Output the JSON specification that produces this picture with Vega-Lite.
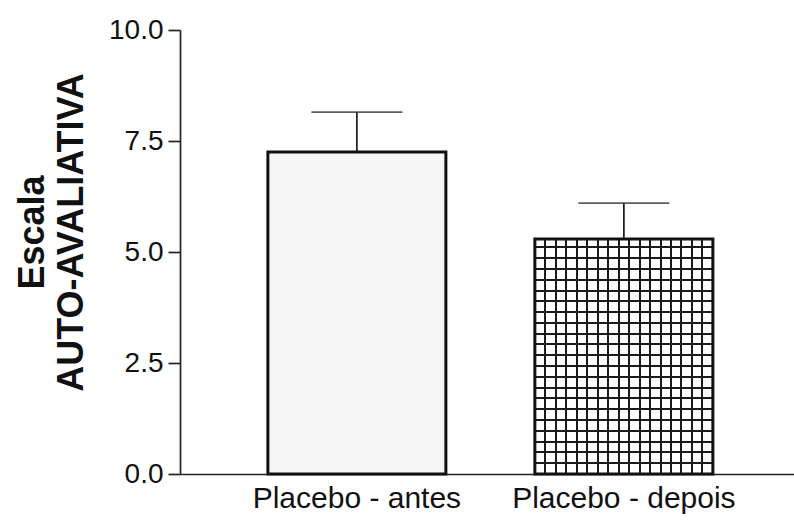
{
  "$schema": "https://vega.github.io/schema/vega-lite/v6.json",
  "autosize": "none",
  "width": 614,
  "height": 444,
  "padding": {"left": 180, "top": 30, "right": 0, "bottom": 46},
  "background": "white",
  "config": {
    "view": {"stroke": null},
    "font": "Liberation Sans",
    "axis": {"domainColor": "#222222", "domainWidth": 1.7, "tickColor": "#222222", "tickWidth": 1.7, "labelColor": "#111111", "labelFont": "Liberation Sans", "titleFont": "Liberation Sans", "grid": false, "labelLimit": 0}
  },
  "data": {
    "values": [
      {"grupo": "Placebo - antes", "media": 7.25, "superior": 8.15},
      {"grupo": "Placebo - depois", "media": 5.29, "superior": 6.1}
    ]
  },
  "encoding": {
    "x": {
      "field": "grupo", "type": "nominal", "sort": null,
      "scale": {"paddingInner": 0.3333, "paddingOuter": 0.3165, "align": 0.52},
      "axis": {"title": null, "labelAngle": 0, "ticks": false, "tickSize": 0, "labelFontSize": 30, "labelBaseline": "alphabetic", "labelPadding": 33, "labelLimit": 0}
    }
  },
  "layer": [
    {
      "transform": [{"filter": "datum.grupo === 'Placebo - antes'"}],
      "mark": {"type": "bar", "fill": "#f7f7f7"},
      "encoding": {
        "y": {
          "field": "media", "type": "quantitative",
          "scale": {"domain": [0, 10], "nice": false, "zero": true},
          "axis": {
            "values": [0, 2.5, 5, 7.5, 10], "format": ".1f", "tickSize": 12, "labelFontSize": 28, "labelPadding": 5,
            "title": ["Escala", "AUTO-AVALIATIVA"], "titleFontSize": 36, "titleFontWeight": "bold", "titleColor": "#111111",
            "titleLineHeight": 39, "titleAngle": -90, "titleAlign": "center", "titleBaseline": "alphabetic", "titleX": -137, "titleY": 202
          }
        }
      }
    },
    {
      "transform": [{"filter": "datum.grupo === 'Placebo - depois'"}],
      "mark": {
        "type": "bar",
        "fill": {
          "gradient": "linear", "x1": 0, "y1": 0, "x2": 0, "y2": 1,
          "stops": [
            {"offset": 0, "color": "#ffffff"},
            {"offset": 0.0306, "color": "#ffffff"}, {"offset": 0.0306, "color": "#1a1a1a"}, {"offset": 0.0392, "color": "#1a1a1a"}, {"offset": 0.0392, "color": "#ffffff"},
            {"offset": 0.0766, "color": "#ffffff"}, {"offset": 0.0766, "color": "#1a1a1a"}, {"offset": 0.0851, "color": "#1a1a1a"}, {"offset": 0.0851, "color": "#ffffff"},
            {"offset": 0.1225, "color": "#ffffff"}, {"offset": 0.1225, "color": "#1a1a1a"}, {"offset": 0.1311, "color": "#1a1a1a"}, {"offset": 0.1311, "color": "#ffffff"},
            {"offset": 0.1685, "color": "#ffffff"}, {"offset": 0.1685, "color": "#1a1a1a"}, {"offset": 0.1770, "color": "#1a1a1a"}, {"offset": 0.1770, "color": "#ffffff"},
            {"offset": 0.2145, "color": "#ffffff"}, {"offset": 0.2145, "color": "#1a1a1a"}, {"offset": 0.2230, "color": "#1a1a1a"}, {"offset": 0.2230, "color": "#ffffff"},
            {"offset": 0.2604, "color": "#ffffff"}, {"offset": 0.2604, "color": "#1a1a1a"}, {"offset": 0.2689, "color": "#1a1a1a"}, {"offset": 0.2689, "color": "#ffffff"},
            {"offset": 0.3064, "color": "#ffffff"}, {"offset": 0.3064, "color": "#1a1a1a"}, {"offset": 0.3149, "color": "#1a1a1a"}, {"offset": 0.3149, "color": "#ffffff"},
            {"offset": 0.3523, "color": "#ffffff"}, {"offset": 0.3523, "color": "#1a1a1a"}, {"offset": 0.3609, "color": "#1a1a1a"}, {"offset": 0.3609, "color": "#ffffff"},
            {"offset": 0.3983, "color": "#ffffff"}, {"offset": 0.3983, "color": "#1a1a1a"}, {"offset": 0.4068, "color": "#1a1a1a"}, {"offset": 0.4068, "color": "#ffffff"},
            {"offset": 0.4443, "color": "#ffffff"}, {"offset": 0.4443, "color": "#1a1a1a"}, {"offset": 0.4528, "color": "#1a1a1a"}, {"offset": 0.4528, "color": "#ffffff"},
            {"offset": 0.4902, "color": "#ffffff"}, {"offset": 0.4902, "color": "#1a1a1a"}, {"offset": 0.4987, "color": "#1a1a1a"}, {"offset": 0.4987, "color": "#ffffff"},
            {"offset": 0.5362, "color": "#ffffff"}, {"offset": 0.5362, "color": "#1a1a1a"}, {"offset": 0.5447, "color": "#1a1a1a"}, {"offset": 0.5447, "color": "#ffffff"},
            {"offset": 0.5821, "color": "#ffffff"}, {"offset": 0.5821, "color": "#1a1a1a"}, {"offset": 0.5907, "color": "#1a1a1a"}, {"offset": 0.5907, "color": "#ffffff"},
            {"offset": 0.6281, "color": "#ffffff"}, {"offset": 0.6281, "color": "#1a1a1a"}, {"offset": 0.6366, "color": "#1a1a1a"}, {"offset": 0.6366, "color": "#ffffff"},
            {"offset": 0.6740, "color": "#ffffff"}, {"offset": 0.6740, "color": "#1a1a1a"}, {"offset": 0.6826, "color": "#1a1a1a"}, {"offset": 0.6826, "color": "#ffffff"},
            {"offset": 0.7200, "color": "#ffffff"}, {"offset": 0.7200, "color": "#1a1a1a"}, {"offset": 0.7285, "color": "#1a1a1a"}, {"offset": 0.7285, "color": "#ffffff"},
            {"offset": 0.7660, "color": "#ffffff"}, {"offset": 0.7660, "color": "#1a1a1a"}, {"offset": 0.7745, "color": "#1a1a1a"}, {"offset": 0.7745, "color": "#ffffff"},
            {"offset": 0.8119, "color": "#ffffff"}, {"offset": 0.8119, "color": "#1a1a1a"}, {"offset": 0.8204, "color": "#1a1a1a"}, {"offset": 0.8204, "color": "#ffffff"},
            {"offset": 0.8579, "color": "#ffffff"}, {"offset": 0.8579, "color": "#1a1a1a"}, {"offset": 0.8664, "color": "#1a1a1a"}, {"offset": 0.8664, "color": "#ffffff"},
            {"offset": 0.9038, "color": "#ffffff"}, {"offset": 0.9038, "color": "#1a1a1a"}, {"offset": 0.9123, "color": "#1a1a1a"}, {"offset": 0.9123, "color": "#ffffff"},
            {"offset": 0.9498, "color": "#ffffff"}, {"offset": 0.9498, "color": "#1a1a1a"}, {"offset": 0.9583, "color": "#1a1a1a"}, {"offset": 0.9583, "color": "#ffffff"},
            {"offset": 1, "color": "#ffffff"}
          ]
        }
      },
      "encoding": {"y": {"field": "media", "type": "quantitative"}}
    },
    {
      "transform": [{"filter": "datum.grupo === 'Placebo - depois'"}],
      "mark": {
        "type": "bar",
        "fill": {
          "gradient": "linear", "x1": 0, "y1": 0, "x2": 1, "y2": 0,
          "stops": [
            {"offset": 0, "color": "rgba(0,0,0,0)"},
            {"offset": 0.0532, "color": "rgba(0,0,0,0)"}, {"offset": 0.0532, "color": "#1a1a1a"}, {"offset": 0.0644, "color": "#1a1a1a"}, {"offset": 0.0644, "color": "rgba(0,0,0,0)"},
            {"offset": 0.1120, "color": "rgba(0,0,0,0)"}, {"offset": 0.1120, "color": "#1a1a1a"}, {"offset": 0.1233, "color": "#1a1a1a"}, {"offset": 0.1233, "color": "rgba(0,0,0,0)"},
            {"offset": 0.1709, "color": "rgba(0,0,0,0)"}, {"offset": 0.1709, "color": "#1a1a1a"}, {"offset": 0.1821, "color": "#1a1a1a"}, {"offset": 0.1821, "color": "rgba(0,0,0,0)"},
            {"offset": 0.2297, "color": "rgba(0,0,0,0)"}, {"offset": 0.2297, "color": "#1a1a1a"}, {"offset": 0.2409, "color": "#1a1a1a"}, {"offset": 0.2409, "color": "rgba(0,0,0,0)"},
            {"offset": 0.2885, "color": "rgba(0,0,0,0)"}, {"offset": 0.2885, "color": "#1a1a1a"}, {"offset": 0.2997, "color": "#1a1a1a"}, {"offset": 0.2997, "color": "rgba(0,0,0,0)"},
            {"offset": 0.3473, "color": "rgba(0,0,0,0)"}, {"offset": 0.3473, "color": "#1a1a1a"}, {"offset": 0.3585, "color": "#1a1a1a"}, {"offset": 0.3585, "color": "rgba(0,0,0,0)"},
            {"offset": 0.4062, "color": "rgba(0,0,0,0)"}, {"offset": 0.4062, "color": "#1a1a1a"}, {"offset": 0.4174, "color": "#1a1a1a"}, {"offset": 0.4174, "color": "rgba(0,0,0,0)"},
            {"offset": 0.4650, "color": "rgba(0,0,0,0)"}, {"offset": 0.4650, "color": "#1a1a1a"}, {"offset": 0.4762, "color": "#1a1a1a"}, {"offset": 0.4762, "color": "rgba(0,0,0,0)"},
            {"offset": 0.5238, "color": "rgba(0,0,0,0)"}, {"offset": 0.5238, "color": "#1a1a1a"}, {"offset": 0.5350, "color": "#1a1a1a"}, {"offset": 0.5350, "color": "rgba(0,0,0,0)"},
            {"offset": 0.5826, "color": "rgba(0,0,0,0)"}, {"offset": 0.5826, "color": "#1a1a1a"}, {"offset": 0.5938, "color": "#1a1a1a"}, {"offset": 0.5938, "color": "rgba(0,0,0,0)"},
            {"offset": 0.6415, "color": "rgba(0,0,0,0)"}, {"offset": 0.6415, "color": "#1a1a1a"}, {"offset": 0.6527, "color": "#1a1a1a"}, {"offset": 0.6527, "color": "rgba(0,0,0,0)"},
            {"offset": 0.7003, "color": "rgba(0,0,0,0)"}, {"offset": 0.7003, "color": "#1a1a1a"}, {"offset": 0.7115, "color": "#1a1a1a"}, {"offset": 0.7115, "color": "rgba(0,0,0,0)"},
            {"offset": 0.7591, "color": "rgba(0,0,0,0)"}, {"offset": 0.7591, "color": "#1a1a1a"}, {"offset": 0.7703, "color": "#1a1a1a"}, {"offset": 0.7703, "color": "rgba(0,0,0,0)"},
            {"offset": 0.8179, "color": "rgba(0,0,0,0)"}, {"offset": 0.8179, "color": "#1a1a1a"}, {"offset": 0.8291, "color": "#1a1a1a"}, {"offset": 0.8291, "color": "rgba(0,0,0,0)"},
            {"offset": 0.8767, "color": "rgba(0,0,0,0)"}, {"offset": 0.8767, "color": "#1a1a1a"}, {"offset": 0.8880, "color": "#1a1a1a"}, {"offset": 0.8880, "color": "rgba(0,0,0,0)"},
            {"offset": 0.9356, "color": "rgba(0,0,0,0)"}, {"offset": 0.9356, "color": "#1a1a1a"}, {"offset": 0.9468, "color": "#1a1a1a"}, {"offset": 0.9468, "color": "rgba(0,0,0,0)"},
            {"offset": 1, "color": "rgba(0,0,0,0)"}
          ]
        }
      },
      "encoding": {"y": {"field": "media", "type": "quantitative"}}
    },
    {
      "mark": {"type": "rule", "color": "#1a1a1a", "strokeWidth": 1.7},
      "encoding": {
        "y": {"field": "media", "type": "quantitative"},
        "y2": {"field": "superior"}
      }
    },
    {
      "mark": {"type": "tick", "color": "#1a1a1a", "size": 91, "thickness": 1.7, "orient": "horizontal"},
      "encoding": {"y": {"field": "superior", "type": "quantitative"}}
    },
    {
      "mark": {"type": "bar", "fill": "transparent", "stroke": "#111111", "strokeWidth": 3},
      "encoding": {"y": {"field": "media", "type": "quantitative"}}
    }
  ]
}
